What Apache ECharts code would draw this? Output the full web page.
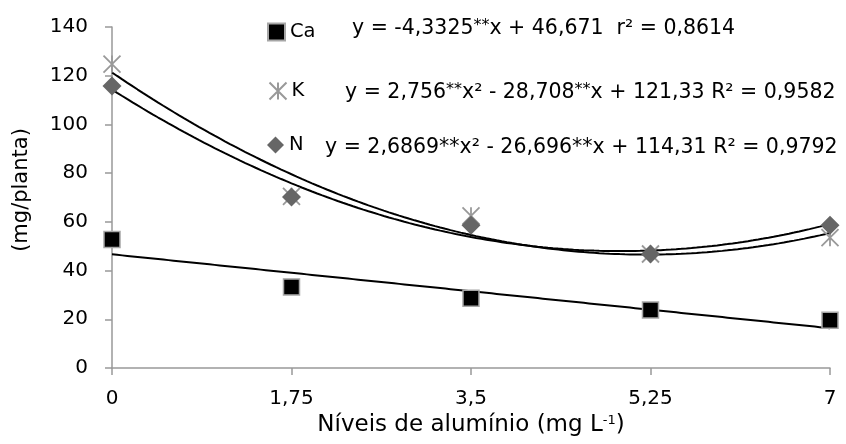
<!DOCTYPE html>
<html><head><meta charset="utf-8">
<script src="https://cdn.jsdelivr.net/npm/echarts@6/dist/echarts.min.js"></script>
<style>html,body{margin:0;padding:0;background:#fff}#c{width:846px;height:444px}</style>
</head><body><div id="c"></div>
<script>
var levels = [0, 1.75, 3.5, 5.25, 7];
var xTicks = ['0', '1,75', '3,5', '5,25', '7'];
var caValues = [52.8, 33.3, 28.6, 23.8, 19.6];
var kValues = [124.8, 70.5, 62.5, 46.8, 53.5];
var nValues = [115.8, 70.2, 58.6, 46.8, 58.6];
// trend coefficients [c0, c1, c2] for y = c0 + c1 x + c2 x^2
var caCoef = [46.671, -4.3325, 0];
var kCoef = [121.33, -28.708, 2.756];
var nCoef = [114.31, -26.696, 2.6869];
var seriesNames = ['Ca', 'K', 'N'];
var equations = [
  'y = -4,3325{s|**}x + 46,671  r² = 0,8614',
  'y = 2,756{s|**}x² - 28,708{s|**}x + 121,33 R² = 0,9582',
  'y = 2,6869**x² - 26,696**x + 114,31 R² = 0,9792'
];

function trend(coef) {
  var pts = [];
  for (var i = 0; i <= 140; i++) {
    var x = i * 0.05;
    pts.push([x, coef[0] + coef[1] * x + coef[2] * x * x]);
  }
  return pts;
}
function pairs(vals) { return levels.map(function (x, i) { return [x, vals[i]]; }); }

var FONT = 'DejaVu Sans';
var chart = echarts.init(document.getElementById('c'));
var rich = { s: { fontFamily: FONT, fontSize: 16, verticalAlign: 'top', padding: [0, 0, 7, 0], fill: '#000' } };
function eq(text, x, y) {
  return { type: 'text', x: x, y: y, style: { text: text, rich: rich, fontFamily: FONT, fontSize: 20.5, fill: '#000', align: 'left', verticalAlign: 'middle' } };
}
function leg(name, top) {
  return {
    data: [name], orient: 'vertical', left: 267, top: top,
    itemWidth: 17, itemHeight: 17, itemGap: 6,
    textStyle: { color: '#000', fontSize: 19.5, fontFamily: FONT }, padding: 0
  };
}
chart.setOption({
  animation: false,
  textStyle: { fontFamily: FONT },
  grid: { left: 112, right: 16, top: 27, bottom: 76 },
  xAxis: {
    type: 'value', min: 0, max: 7, interval: 1.75,
    axisLine: { lineStyle: { color: '#999', width: 1.5 } },
    axisTick: { show: true, length: 7, lineStyle: { color: '#999', width: 1.5 } },
    splitLine: { show: false },
    axisLabel: { color: '#000', fontSize: 20, margin: 21, formatter: function (v) { var i = levels.indexOf(v); return i >= 0 ? xTicks[i] : ''; } },
    name: 'Níveis de alumínio (mg L{s|-1})', nameLocation: 'middle', nameGap: 37,
    nameTextStyle: { color: '#000', fontSize: 23, rich: { s: { fontSize: 13, verticalAlign: 'top', padding: [0, 0, 10, 0], color: '#000' } } }
  },
  yAxis: {
    type: 'value', min: 0, max: 140, interval: 20,
    axisLine: { show: true, lineStyle: { color: '#999', width: 1.5 } },
    axisTick: { show: true, length: 7, lineStyle: { color: '#999', width: 1.5 } },
    splitLine: { show: false },
    axisLabel: { color: '#000', fontSize: 20, margin: 24 }
  },
  legend: [leg('Ca', 22), leg('K', 80), leg('N', 135)],
  graphic: [
    { type: 'text', x: 22, y: 190, rotation: Math.PI / 2, style: { text: '(mg/planta)', fontFamily: FONT, fontSize: 21, fill: '#000', align: 'center', verticalAlign: 'middle' } },
    eq(equations[0], 352, 29),
    eq(equations[1], 345, 93),
    eq(equations[2], 325, 148)
  ],
  series: [
    { name: 'Ca trend', type: 'line', data: trend(caCoef), showSymbol: false, lineStyle: { color: '#000', width: 2 }, z: 2, silent: true },
    { name: 'K trend', type: 'line', data: trend(kCoef), showSymbol: false, lineStyle: { color: '#000', width: 2 }, z: 2, silent: true },
    { name: 'N trend', type: 'line', data: trend(nCoef), showSymbol: false, lineStyle: { color: '#000', width: 2 }, z: 2, silent: true },
    { name: 'Ca', type: 'scatter', data: pairs(caValues), symbol: 'rect', symbolSize: 16,
      itemStyle: { color: '#000', borderColor: '#a6a6a6', borderWidth: 1.5, opacity: 1 }, z: 3 },
    { name: 'K', type: 'scatter', data: pairs(kValues), symbol: 'path://M0,0L10,10M10,0L0,10M5,0L5,10', symbolSize: 17,
      itemStyle: { color: 'none', borderColor: '#999', borderWidth: 1.8, opacity: 1 }, z: 3 },
    { name: 'N', type: 'scatter', data: pairs(nValues), symbol: 'diamond', symbolSize: 19,
      itemStyle: { color: '#666', opacity: 1 }, z: 4 }
  ]
});
</script></body></html>
